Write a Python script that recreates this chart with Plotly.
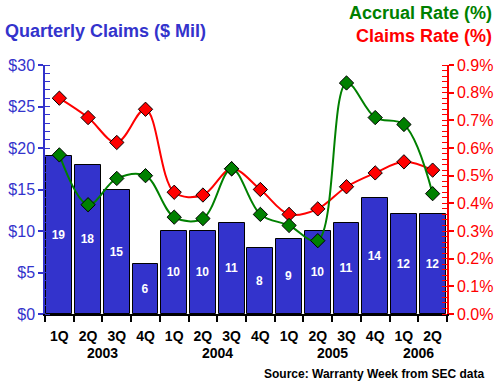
import plotly.graph_objects as go

# ---- data ----
quarters = ["1Q", "2Q", "3Q", "4Q", "1Q", "2Q", "3Q", "4Q", "1Q", "2Q", "3Q", "4Q", "1Q", "2Q"]
years = ["2003", "2004", "2005", "2006"]
year_centers = [1.5, 5.5, 9.5, 12.5]
claims = [19, 18, 15, 6, 10, 10, 11, 8, 9, 10, 11, 14, 12, 12]
claims_rate = [0.78, 0.71, 0.62, 0.74, 0.44, 0.43, 0.525, 0.45, 0.36, 0.38, 0.46, 0.51, 0.55, 0.52]
accrual_rate = [0.575, 0.395, 0.49, 0.50, 0.35, 0.345, 0.525, 0.36, 0.32, 0.265, 0.835, 0.71, 0.685, 0.435]

# ---- layout helpers (pixel -> paper) ----
W, H = 500, 385
L, R, T, B = 45, 447, 65, 314
def px_x(x):
    return (x - L) / (R - L)
def px_y(y):
    return (B - y) / (B - T)

BLUE = "#3333CC"
RED = "#FF0000"
GREEN = "#008000"
FONT = "Liberation Sans, Arial, sans-serif"

xs = list(range(len(quarters)))

fig = go.Figure()
fig.add_trace(go.Bar(
    x=xs, y=claims, width=0.9,
    marker=dict(color=BLUE, line=dict(color="black", width=1)),
    text=[str(v) for v in claims], textposition="inside", insidetextanchor="middle",
    textangle=0,
    textfont=dict(family=FONT, size=12, color="white", weight="bold"),
    hoverinfo="skip", showlegend=False,
))
fig.add_trace(go.Scatter(
    x=xs, y=claims_rate, yaxis="y2", mode="lines+markers",
    line=dict(color=RED, width=2, shape="spline"),
    marker=dict(symbol="diamond", size=11, color=RED, line=dict(color="black", width=1)),
    hoverinfo="skip", showlegend=False,
))
fig.add_trace(go.Scatter(
    x=xs, y=accrual_rate, yaxis="y2", mode="lines+markers",
    line=dict(color=GREEN, width=2, shape="spline"),
    marker=dict(symbol="diamond", size=11, color=GREEN, line=dict(color="black", width=1)),
    hoverinfo="skip", showlegend=False,
))

annotations = [
    dict(text="Quarterly Claims ($ Mil)", x=px_x(3), y=px_y(31), xref="paper", yref="paper",
         xanchor="left", yanchor="middle", showarrow=False,
         font=dict(family=FONT, size=18, color=BLUE, weight="bold")),
    dict(text="Accrual Rate (%)", x=px_x(494), y=px_y(13), xref="paper", yref="paper",
         xanchor="right", yanchor="middle", showarrow=False,
         font=dict(family=FONT, size=18, color=GREEN, weight="bold")),
    dict(text="Claims Rate (%)", x=px_x(494), y=px_y(36), xref="paper", yref="paper",
         xanchor="right", yanchor="middle", showarrow=False,
         font=dict(family=FONT, size=18, color=RED, weight="bold")),
    dict(text="Source: Warranty Week from SEC data", x=px_x(486), y=px_y(374), xref="paper", yref="paper",
         xanchor="right", yanchor="middle", showarrow=False,
         font=dict(family=FONT, size=12, color="black", weight="bold")),
]
for yr, xc in zip(years, year_centers):
    annotations.append(dict(text=yr, x=xc, y=px_y(353), xref="x", yref="paper",
                            xanchor="center", yanchor="middle", showarrow=False,
                            font=dict(family=FONT, size=14, color="black", weight="bold")))

fig.update_layout(
    width=W, height=H,
    margin=dict(l=L, r=W - R, t=T, b=H - B, autoexpand=False),
    paper_bgcolor="white", plot_bgcolor="white",
    font=dict(family=FONT),
    bargap=0,
    annotations=annotations,
    xaxis=dict(
        range=[-0.5, len(quarters) - 0.5], tickmode="array", tickvals=xs, ticktext=quarters,
        ticks="", showline=True, linecolor="black", linewidth=1.5,
        showgrid=False, zeroline=False, ticklabelstandoff=8, automargin=False,
        tickfont=dict(family=FONT, size=14, color="black", weight="bold"),
        minor=dict(ticks="outside", tickmode="array",
                   tickvals=[i - 0.5 for i in range(len(quarters) + 1)],
                   ticklen=6, tickcolor="black", tickwidth=1.5, showgrid=False),
    ),
    yaxis=dict(
        range=[0, 30], dtick=5, tickprefix="$", showgrid=False, zeroline=False,
        showline=True, linecolor=BLUE, linewidth=1.5, automargin=False,
        ticks="outside", ticklen=5, tickcolor=BLUE, tickwidth=1.5, ticklabelstandoff=0,
        tickfont=dict(family=FONT, size=16, color=BLUE),
        minor=dict(ticks="inside", dtick=1, ticklen=5, tickcolor=BLUE, tickwidth=1, showgrid=False),
    ),
    yaxis2=dict(
        range=[0, 0.9], dtick=0.1, tickformat=".1f", ticksuffix="%",
        overlaying="y", side="right", showgrid=False, zeroline=False,
        showline=True, linecolor=RED, linewidth=1.5, automargin=False,
        ticks="outside", ticklen=5, tickcolor=RED, tickwidth=1.5,
        tickfont=dict(family=FONT, size=16, color=RED),
        minor=dict(ticks="inside", dtick=0.02, ticklen=5, tickcolor=RED, tickwidth=1, showgrid=False),
    ),
)

fig.write_html("out.html", post_script="document.body.style.margin='0';",
               config={"displayModeBar": False})
